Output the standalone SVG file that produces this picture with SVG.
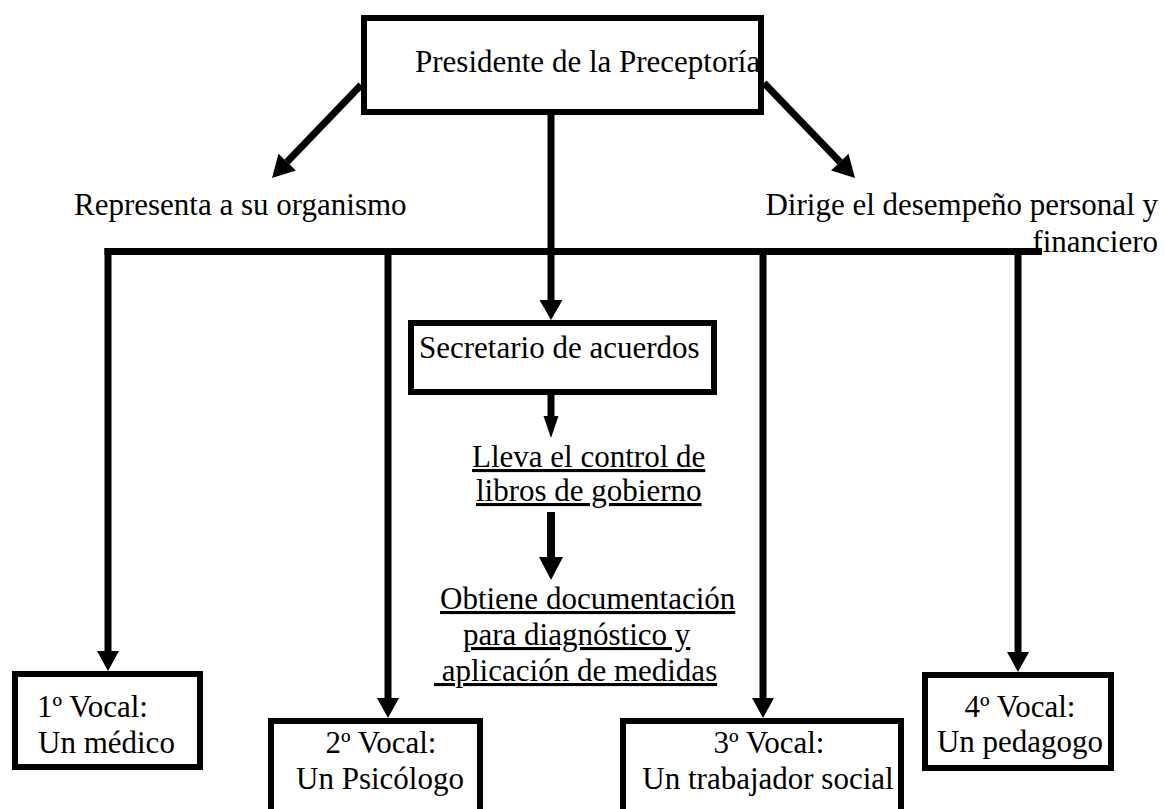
<svg xmlns="http://www.w3.org/2000/svg" width="1164" height="809" viewBox="0 0 1164 809">
<style>
.box{fill:#fff;stroke:#000;stroke-width:6}
.t{font-family:"Liberation Serif","Times New Roman",serif;font-size:31px;fill:#000}
.m{text-anchor:middle}
.u{text-decoration:underline}
.sh{stroke:#000;stroke-width:7;fill:none}
.hd{fill:#000;stroke:none}
</style>
<rect width="1164" height="809" fill="#fff"/>
<g id="connectors">
<line class="sh" x1="361" y1="85" x2="287" y2="162"/>
<polygon class="hd" points="272,178 295.9,170.4 278.5,153.8"/>
<line class="sh" x1="764" y1="83" x2="840" y2="162"/>
<polygon class="hd" points="855,178 831.1,170.4 848.5,153.8"/>
<line class="sh" x1="551" y1="115" x2="551" y2="301"/>
<polygon class="hd" points="539.5,300 562.5,300 551,320"/>
<line class="sh" x1="104.5" y1="251.5" x2="1042" y2="251.5"/>
<line class="sh" x1="108" y1="248" x2="108" y2="652"/>
<polygon class="hd" points="97,651 119,651 108,671"/>
<line class="sh" x1="388" y1="248" x2="388" y2="699"/>
<polygon class="hd" points="377,698 399,698 388,718"/>
<line class="sh" x1="763" y1="248" x2="763" y2="699"/>
<polygon class="hd" points="752,698 774,698 763,718"/>
<line class="sh" x1="1018" y1="248" x2="1018" y2="653"/>
<polygon class="hd" points="1007,652 1029,652 1018,672"/>
<line class="sh" x1="551" y1="395" x2="551" y2="417"/>
<polygon class="hd" points="543.5,416 558.5,416 551,438"/>
<line class="sh" x1="551" y1="512" x2="551" y2="558" style="stroke-width:8"/>
<polygon class="hd" points="539,557 563,557 551,580"/>
</g>
<g id="presidente">
<rect class="box" x="364" y="18" width="397" height="94"/>
<text class="t" x="415" y="72">Presidente de la Preceptoría</text>
</g>
<g id="representa">
<text class="t" x="74" y="215">Representa a su organismo</text>
</g>
<g id="dirige">
<text class="t" x="1158" y="215" text-anchor="end">Dirige el desempeño personal y</text>
<text class="t" x="1158" y="252" text-anchor="end">financiero</text>
</g>
<g id="secretario">
<rect class="box" x="411" y="323" width="303" height="69"/>
<text class="t" x="419" y="358">Secretario de acuerdos</text>
</g>
<g id="lleva">
<text class="t u" x="472" y="467">Lleva el control de</text>
<text class="t u" x="476" y="501">libros de gobierno</text>
</g>
<g id="obtiene">
<text class="t u" x="440" y="609">Obtiene documentación</text>
<text class="t u" x="463" y="645">para diagnóstico y</text>
<text class="t u" x="434" y="681" xml:space="preserve"> aplicación de medidas</text>
</g>
<g id="vocal1">
<rect class="box" x="15" y="674" width="185" height="93"/>
<text class="t" x="37" y="717">1º Vocal:</text>
<text class="t" x="38" y="753">Un médico</text>
</g>
<g id="vocal2">
<rect class="box" x="271" y="721" width="209" height="100"/>
<text class="t m" x="381" y="753">2º Vocal:</text>
<text class="t m" x="380" y="789">Un Psicólogo</text>
</g>
<g id="vocal3">
<rect class="box" x="623" y="721" width="278" height="100"/>
<text class="t m" x="769" y="753">3º Vocal:</text>
<text class="t m" x="768" y="789">Un trabajador social</text>
</g>
<g id="vocal4">
<rect class="box" x="925" y="675" width="186" height="93"/>
<text class="t m" x="1020" y="717">4º Vocal:</text>
<text class="t m" x="1020" y="752">Un pedagogo</text>
</g>
</svg>
